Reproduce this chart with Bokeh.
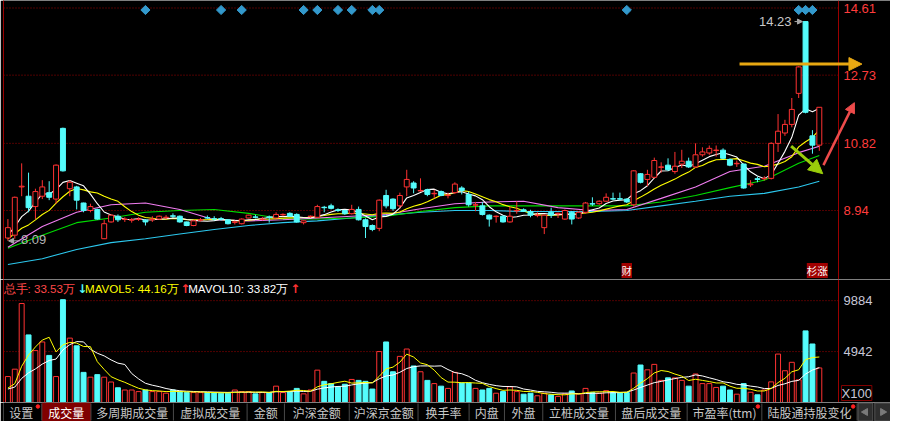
import numpy as np
from bokeh.plotting import figure
from bokeh.layouts import column
from bokeh.models import (Range1d, LinearAxis, FixedTicker, ColumnDataSource,
                          Label, Arrow, NormalHead)
from bokeh.core.properties import value
from bokeh.embed import file_html
from bokeh.resources import INLINE

# ---------------- data ----------------
opens = [8.17, 8.25, 9.60, 9.34, 9.05, 9.34, 9.44, 9.26, 11.24, 9.55,
         9.60, 9.15, 8.94, 8.97, 8.15, 8.62, 8.78, 8.69, 8.67, 8.69,
         8.67, 8.68, 8.70, 8.74, 8.79, 8.78, 8.62, 8.52, 8.67, 8.74,
         8.71, 8.71, 8.68, 8.61, 8.57, 8.73, 8.76, 8.69, 8.76, 8.73,
         8.82, 8.86, 8.83, 8.60, 8.77, 8.75, 9.03, 9.07, 8.96, 8.94,
         8.85, 8.97, 8.68, 8.52, 8.44, 9.36, 9.26, 9.07, 9.60, 9.71,
         9.49, 9.52, 9.41, 9.47, 9.36, 9.44, 9.57, 9.39, 9.09, 9.07,
         8.81, 8.77, 8.78, 8.62, 8.93, 8.96, 8.91, 8.80, 8.46, 8.89,
         8.85, 8.70, 8.89, 8.73, 8.89, 9.13, 9.13, 9.20, 9.27, 9.27,
         9.26, 9.10, 9.97, 9.81, 9.87, 10.15, 10.21, 10.03, 10.24, 10.32,
         10.16, 10.50, 10.55, 10.62, 10.63, 10.37, 10.25, 10.24, 9.66, 9.83,
         9.83, 9.84, 10.82, 11.11, 11.35, 12.22, 14.23, 11.03, 10.77]
highs = [8.70, 9.33, 10.26, 10.00, 9.55, 9.79, 9.76, 10.23, 11.26, 9.79,
         9.63, 9.16, 9.13, 8.99, 8.68, 8.83, 8.83, 8.75, 8.73, 8.75,
         8.70, 8.78, 8.80, 8.81, 8.86, 8.80, 8.63, 8.67, 8.73, 8.80,
         8.78, 8.76, 8.70, 8.66, 8.72, 8.82, 8.82, 8.76, 8.80, 8.89,
         8.86, 8.89, 8.86, 8.66, 8.80, 9.10, 9.07, 9.13, 9.00, 8.96,
         9.10, 9.05, 8.72, 8.55, 9.25, 9.52, 9.28, 9.44, 10.08, 9.76,
         9.84, 9.55, 9.52, 9.50, 9.44, 9.73, 9.62, 9.47, 9.18, 9.18,
         8.83, 8.80, 8.80, 9.05, 9.20, 9.00, 8.96, 8.89, 8.83, 9.02,
         8.88, 8.97, 8.92, 8.92, 9.18, 9.31, 9.22, 9.42, 9.44, 9.44,
         9.28, 10.07, 9.99, 10.08, 10.42, 10.29, 10.40, 10.58, 10.64, 10.42,
         10.82, 10.71, 10.76, 10.76, 10.68, 10.40, 10.34, 10.26, 9.79, 9.89,
         9.90, 10.85, 11.64, 11.48, 12.09, 12.98, 14.23, 11.19, 11.83]
lows = [8.09, 8.15, 9.34, 8.89, 8.70, 9.26, 9.23, 9.13, 10.03, 9.34,
        8.97, 8.89, 8.89, 8.68, 8.14, 8.60, 8.62, 8.62, 8.60, 8.65,
        8.52, 8.62, 8.68, 8.70, 8.73, 8.60, 8.50, 8.50, 8.63, 8.70,
        8.66, 8.66, 8.55, 8.55, 8.55, 8.72, 8.72, 8.66, 8.60, 8.72,
        8.78, 8.76, 8.60, 8.55, 8.74, 8.73, 8.89, 8.97, 8.90, 8.82,
        8.83, 8.66, 8.17, 8.36, 8.36, 9.00, 8.93, 9.00, 9.34, 9.42,
        9.47, 9.34, 9.28, 9.34, 9.28, 9.40, 9.39, 9.05, 8.92, 8.80,
        8.49, 8.60, 8.60, 8.60, 8.85, 8.90, 8.75, 8.75, 8.28, 8.73,
        8.73, 8.68, 8.55, 8.70, 8.85, 9.07, 9.10, 9.18, 9.23, 9.23,
        9.15, 9.05, 9.70, 9.62, 9.84, 10.00, 10.05, 9.97, 10.13, 10.13,
        10.13, 10.45, 10.50, 10.45, 10.37, 10.18, 10.16, 9.55, 9.60, 9.73,
        9.78, 9.81, 10.58, 11.03, 11.27, 12.09, 11.66, 10.53, 10.61]
closes = [8.46, 9.31, 9.62, 9.02, 9.47, 9.60, 9.31, 10.21, 10.05, 9.73,
          9.23, 8.94, 9.05, 8.70, 8.57, 8.81, 8.68, 8.70, 8.68, 8.70,
          8.62, 8.70, 8.78, 8.75, 8.78, 8.62, 8.52, 8.65, 8.68, 8.73,
          8.70, 8.70, 8.57, 8.62, 8.70, 8.81, 8.75, 8.70, 8.75, 8.83,
          8.83, 8.78, 8.62, 8.65, 8.78, 9.05, 9.02, 9.00, 8.94, 8.85,
          8.97, 8.68, 8.49, 8.41, 9.23, 9.07, 8.99, 9.36, 9.81, 9.57,
          9.50, 9.39, 9.42, 9.36, 9.37, 9.68, 9.50, 9.10, 9.10, 8.83,
          8.70, 8.78, 8.62, 8.78, 8.94, 8.92, 8.81, 8.81, 8.81, 8.81,
          8.86, 8.94, 8.70, 8.89, 9.15, 9.12, 9.20, 9.31, 9.26, 9.26,
          9.18, 10.05, 9.73, 9.95, 10.34, 10.16, 10.08, 10.18, 10.32, 10.16,
          10.50, 10.58, 10.68, 10.63, 10.40, 10.21, 10.26, 9.57, 9.68, 9.81,
          9.84, 10.82, 11.16, 11.35, 11.77, 12.96, 11.69, 10.77, 11.83]
# volume in units of 100 lots (axis shows X100)
volumes = [2518, 3233, 9605, 6558, 5036, 5875, 4569, 2518, 9978, 6248,
           5502, 2922, 2456, 2704, 2456, 1989, 1430, 1212, 1212, 1057,
           1212, 1057, 1057, 901, 1212, 1057, 963, 963, 963, 963,
           963, 901, 901, 1212, 1057, 1057, 839, 963, 963, 1585,
           963, 1057, 1368, 839, 1212, 3140, 2052, 1834, 1523, 1772,
           2238, 2145, 2052, 1305, 4942, 5875, 2984, 4476, 5190, 3544,
           2984, 2145, 1834, 1585, 1368, 2922, 1896, 1896, 1368, 1212,
           1368, 901, 1057, 1523, 1057, 808, 901, 653, 901, 746,
           590, 839, 1119, 839, 1368, 963, 901, 1150, 963, 963,
           963, 2860, 3637, 3171, 3699, 2145, 2393, 2393, 2145, 1585,
           2766, 1834, 1834, 1461, 1585, 1212, 808, 1834, 994, 746,
           1212, 2000, 4700, 3082, 3900, 2200, 6950, 5677, 3353]
# closes / volumes just before the visible window (estimated from the MA starts)
prior_closes = [8.00, 8.05, 8.10, 8.05, 8.10, 8.15, 8.20, 8.25, 8.20]
prior_volumes = [1300, 1200, 1150, 1250, 1150, 1100, 1150, 1100, 1130]
# longer moving averages every 5 sessions
ma_idx = [0, 5, 10, 15, 20, 25, 30, 35, 40, 45, 50, 55, 60, 65, 70, 75,
          80, 85, 90, 95, 100, 105, 110, 115, 118]
ma20 = [7.91, 8.49, 8.89, 9.10, 9.15, 8.97, 8.68, 8.65, 8.68, 8.73, 8.78, 8.83,
        8.99, 9.13, 9.18, 9.20, 9.02, 8.94, 8.97, 9.28, 9.60, 10.03, 10.18, 10.56, 10.74]
ma30 = [7.88, 8.25, 8.60, 8.73, 8.89, 8.94, 8.97, 8.86, 8.70, 8.70, 8.73, 8.78,
        8.91, 9.02, 9.07, 9.07, 9.07, 9.07, 9.07, 9.18, 9.36, 9.58, 9.79, 10.26, 10.48]
ma60 = [7.43, 7.59, 7.85, 8.04, 8.15, 8.28, 8.41, 8.52, 8.60, 8.65, 8.73, 8.81,
        8.89, 8.94, 8.94, 8.91, 8.91, 8.91, 8.94, 9.07, 9.20, 9.34, 9.42, 9.60, 9.76]
price_ticks = [8.94, 10.82, 12.73, 14.61]
vol_ticks = [4942, 9884]
event_idx = [20, 31, 34, 43, 45, 48, 50, 53, 54, 90, 115, 116, 117]
note_idx = [90, 118]
note_text = ["财", "杉涨"]
tab_labels = ["设置", "成交量", "多周期成交量", "虚拟成交量", "金额", "沪深金额",
              "沪深京金额", "换手率", "内盘", "外盘", "立桩成交量", "盘后成交量",
              "市盈率(ttm)", "陆股通持股变化"]
tab_dots = [0, 12, 13]
tab_selected = 1
# hand-drawn arrows on the chart: (x0, y0, x1, y1, color, width, head size)
sketch_arrows = [(106.4, 13.04, 124.2, 13.04, "#e8a812", 3, 13),
                 (118.6, 10.21, 123.1, 11.96, "#ee4b4b", 2.5, 10),
                 (113.9, 10.74, 118.5, 9.97, "#9acd0a", 3, 14)]

# ---------------- layout / style ----------------
W, HP, HV, HT = 890, 279, 123, 19
BL = 3
x_lo, x_ax = -0.643, 120.79          # left frame edge, position of the price axis
px_per = (838 - BL) / (x_ax - x_lo)
x_full = x_lo + (W - BL) / px_per    # frame runs under the axis labels
y_lo, y_hi = 7.008, 14.82
v_hi = 11936
UP, DOWN = "#ff3232", "#54fcfc"
BORDER, GRID = "#9a0000", "#a00000"
FONT = value("Liberation Sans")


def sma(vals, prior, k):
    full = list(prior) + list(vals)
    s = len(prior)
    return [float(np.mean(full[j - k + 1:j + 1])) for j in range(s, len(full))]


n = len(closes)
idx = list(range(n))
is_up = [c >= o for o, c in zip(opens, closes)]
line_col = [UP if u else DOWN for u in is_up]
fill_col = ["black" if u else DOWN for u in is_up]
tops, bots = [], []
for o, c in zip(opens, closes):
    t, b = max(o, c), min(o, c)
    if t - b < 0.012:
        m = (t + b) / 2
        t, b = m + 0.006, m - 0.006
    tops.append(t)
    bots.append(b)

src = ColumnDataSource(dict(x=idx, o=opens, h=highs, l=lows, c=closes, top=tops,
                            bot=bots, lc=line_col, fc=fill_col, vol=volumes))


def style_frame(f):
    f.background_fill_color = "black"
    f.border_fill_color = "black"
    f.outline_line_color = None
    f.xgrid.visible = False
    f.ygrid.visible = False


def blank_axis(ax):
    ax.ticker = FixedTicker(ticks=[])
    ax.major_label_text_font_size = "0px"
    ax.major_tick_line_color = None
    ax.minor_tick_line_color = None
    ax.major_tick_out = 0
    ax.minor_tick_out = 0
    ax.major_label_standoff = 0
    ax.axis_line_color = BORDER


def value_axis(ax, ticks, color):
    ax.ticker = FixedTicker(ticks=ticks)
    ax.fixed_location = x_ax
    ax.axis_line_color = BORDER
    ax.major_tick_line_color = None
    ax.minor_tick_line_color = None
    ax.major_tick_out = 0
    ax.major_label_standoff = 5
    ax.major_label_text_color = color
    ax.major_label_text_font = "Liberation Sans"
    ax.major_label_text_font_size = "13px"


# ---------------- price panel ----------------
p = figure(width=W, height=HP, x_range=Range1d(x_lo, x_full), y_range=Range1d(y_lo, y_hi),
           output_backend="svg", toolbar_location=None, y_axis_location="right",
           min_border_left=BL, min_border_right=0, min_border_top=0, min_border_bottom=0)
style_frame(p)
value_axis(p.yaxis[0], price_ticks, "#ff3c3c")
blank_axis(p.xaxis[0])
lax = LinearAxis()
blank_axis(lax)
p.add_layout(lax, "left")
# dotted level lines at the axis ticks
p.segment(x0=[x_lo] * len(price_ticks), y0=price_ticks, x1=[x_ax] * len(price_ticks),
          y1=price_ticks, line_color=GRID, line_dash="1 2", line_width=1)

# moving averages
ma5 = sma(closes, prior_closes, 5)
ma10 = sma(closes, prior_closes, 10)
p.line(ma_idx, ma60, color="#2cc8ee", line_width=1.1)
p.line(ma_idx, ma30, color="#00dc00", line_width=1.1)
p.line(ma_idx, ma20, color="#f07cf0", line_width=1.1)
p.line(idx, ma10, color="#ffff00", line_width=1.1)
p.line(idx, ma5, color="#ffffff", line_width=1.1)

# candles
p.segment(x0="x", y0="l", x1="x", y1="h", color="lc", line_width=1, source=src)
p.vbar(x="x", width=0.72, top="top", bottom="bot", fill_color="fc", line_color="lc",
       line_width=1, source=src)

# event diamonds along the top
dy = (y_hi - y_lo) / HP
p.scatter(x=event_idx, y=[y_hi - 9.5 * dy] * len(event_idx), marker="square",
          angle=np.pi / 4, size=6.5, fill_color="#3399cc", line_color="#3399cc")

# high / low labels
hi_i = int(np.argmax(highs))
lo_i = int(np.argmin(lows))
p.text(x=[hi_i], y=[highs[hi_i]], text=[f"{highs[hi_i]:.2f}"], x_offset=-14,
       text_align="right", text_baseline="middle", text_color="#c8c8c8",
       text_font=FONT, text_font_size="13px")
p.add_layout(Arrow(x_start=hi_i - 1.6, y_start=highs[hi_i], x_end=hi_i - 0.45,
                   y_end=highs[hi_i], line_color="#a8a8a8", line_width=1,
                   end=NormalHead(size=5, fill_color="#a8a8a8", line_color="#a8a8a8")))
p.text(x=[lo_i], y=[lows[lo_i]], text=[f"{lows[lo_i]:.2f}"], x_offset=13, y_offset=-1,
       text_align="left", text_baseline="middle", text_color="#b4b4b4",
       text_font=FONT, text_font_size="13px")
p.add_layout(Arrow(x_start=lo_i + 1.8, y_start=lows[lo_i], x_end=lo_i + 0.1,
                   y_end=lows[lo_i], line_color="#a8a8a8", line_width=1,
                   end=NormalHead(size=5, fill_color="#a8a8a8", line_color="#a8a8a8")))

# hand drawn arrows
for x0, y0, x1, y1, col, lw, hs in sketch_arrows:
    p.add_layout(Arrow(x_start=x0, y_start=y0, x_end=x1, y_end=y1, line_color=col,
                       line_width=lw, end=NormalHead(size=hs, fill_color=col, line_color=col)))

# event notes at the bottom
for ni, nt in zip(note_idx, note_text):
    p.add_layout(Label(x=ni, y=y_lo + 1.5 * dy, text=nt, text_align="center",
                       text_baseline="bottom", text_color="white", text_font_size="10.5px",
                       text_font="Noto Sans CJK SC", background_fill_color="#a00000",
                       x_offset=-2 if ni == n - 1 else 0))

# ---------------- volume panel ----------------
v = figure(width=W, height=HV, x_range=p.x_range, y_range=Range1d(0, v_hi),
           output_backend="svg", toolbar_location=None, y_axis_location="right",
           min_border_left=BL, min_border_right=0, min_border_top=0, min_border_bottom=0)
style_frame(v)
value_axis(v.yaxis[0], vol_ticks, "#c8c8d8")
v.xaxis.visible = False
lax2 = LinearAxis()
blank_axis(lax2)
v.add_layout(lax2, "left")
v.segment(x0=[x_lo] * len(vol_ticks), y0=vol_ticks, x1=[x_ax] * len(vol_ticks),
          y1=vol_ticks, line_color=GRID, line_dash="1 2", line_width=1)

v.vbar(x="x", width=0.72, top="vol", bottom=0, fill_color="fc", line_color="lc",
       line_width=1, source=src)
mv5 = sma(volumes, prior_volumes, 5)
mv10 = sma(volumes, prior_volumes, 10)
v.line(idx, mv10, color="#ffffff", line_width=1.0)
v.line(idx, mv5, color="#ffff00", line_width=1.0)


def wan(x):
    return f"{x * 100 / 1e4:.2f}万"


arr_v = "↑" if volumes[-1] >= volumes[-2] else "↓"
arr_5 = "↑" if mv5[-1] >= mv5[-2] else "↓"
arr_10 = "↑" if mv10[-1] >= mv10[-2] else "↓"
hdr_y = v_hi * (1 - 9.5 / 128)
hdr = [("总手: " + wan(volumes[-1]), "#ff4848", 3, False),
       (arr_v, UP if arr_v == "↑" else DOWN, 78, True),
       ("MAVOL5: " + wan(mv5[-1]), "#ffff00", 86, False),
       (arr_5, UP if arr_5 == "↑" else DOWN, 183, True),
       ("MAVOL10: " + wan(mv10[-1]), "#ffffff", 191, False),
       (arr_10, UP if arr_10 == "↑" else DOWN, 295, True)]
for txt, col, rx, is_arrow in hdr:
    v.text(x=[x_lo + (rx - 3) / 7.0], y=[hdr_y], text=[txt],
           text_align="left", text_baseline="middle", text_color=col,
           text_font=value("DejaVu Sans") if is_arrow else FONT,
           text_font_style="bold" if is_arrow else "normal",
           text_font_size="12px" if is_arrow else "11.6px")
v.add_layout(Label(x=x_ax, y=0, x_offset=3, y_offset=2, text="X100", text_color="#c8c8d8",
                   text_font="Liberation Sans", text_font_size="13px",
                   text_baseline="bottom", border_line_color="#800000",
                   background_fill_color="black"))

# ---------------- tab bar (coordinates in reference pixels) ----------------
t = figure(width=W, height=HT, x_range=Range1d(3, 906), y_range=Range1d(0, 19),
           output_backend="svg", toolbar_location=None,
           min_border_left=BL, min_border_right=0, min_border_top=0, min_border_bottom=0)
style_frame(t)
t.axis.visible = False
tab_edges = [0, 42, 92, 176, 251, 289, 355, 425, 477, 513, 552, 626, 699, 775, 872]
t.quad(left=[tab_edges[tab_selected]], right=[tab_edges[tab_selected + 1]], bottom=[0],
       top=[19], fill_color="#800000", line_color=None)
t.segment(x0=tab_edges[1:], y0=[1] * (len(tab_edges) - 1), x1=tab_edges[1:],
          y1=[18] * (len(tab_edges) - 1), color="#4a4a4a", line_width=1)
centers = [(a + b) / 2 for a, b in zip(tab_edges[:-1], tab_edges[1:])]
t.text(x=centers, y=[9.5] * len(centers), text=tab_labels, text_align="center",
       text_baseline="middle", text_font=value("Noto Sans CJK SC"), text_font_size="12px",
       text_color=["#ffffff" if k == tab_selected else "#c8c8c8" for k in range(len(tab_labels))])
t.scatter(x=[tab_edges[k + 1] - 4 for k in tab_dots], y=[15] * len(tab_dots),
          marker="circle", size=3.5, color="#ff2020")
t.quad(left=[873, 890], right=[888, 906], bottom=[0.5, 0.5], top=[18.5, 18.5],
       fill_color="#2e2e2e", line_color="#555555")
t.scatter(x=[880.5, 898], y=[9.5, 9.5], marker="triangle", angle=[np.pi / 2, -np.pi / 2],
          size=7, color="#7a7a7a")

layout = column(p, v, t, spacing=0)
open("out.html", "w").write(file_html(layout, INLINE))
